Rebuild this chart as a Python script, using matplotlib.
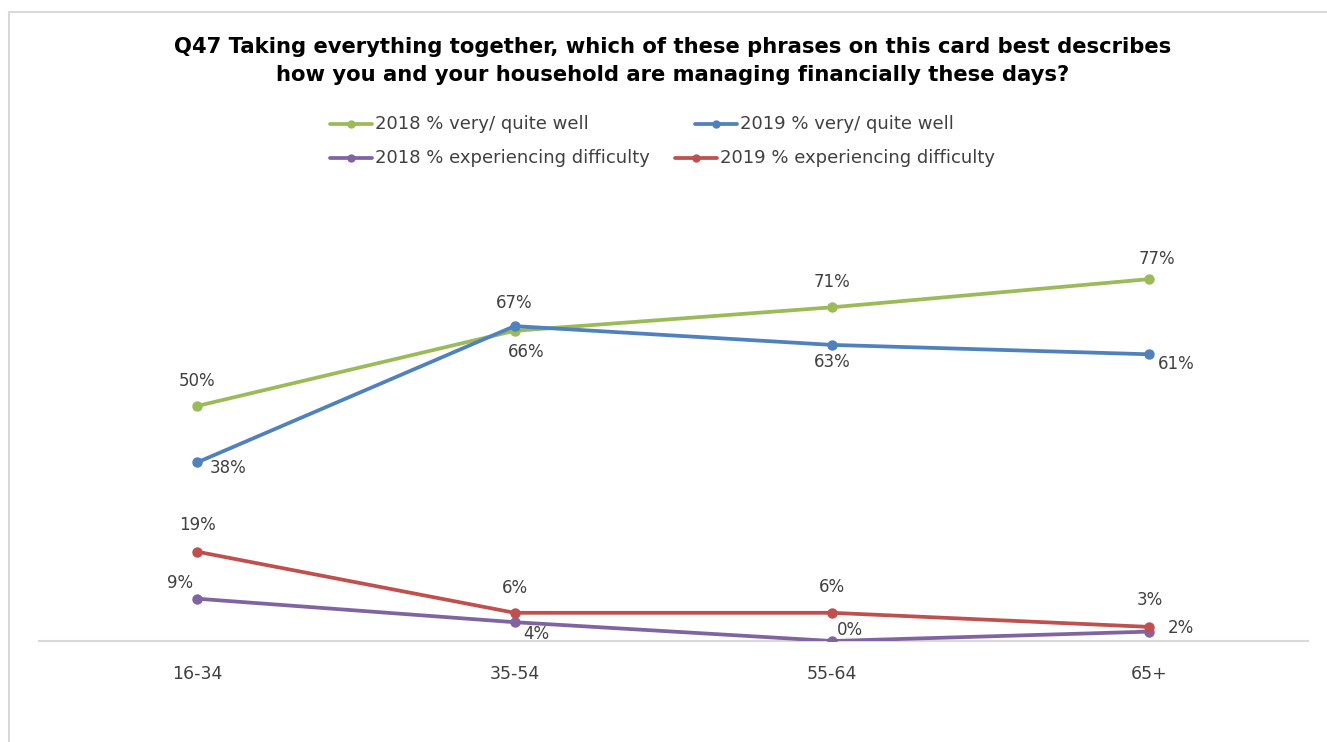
import numpy as np
import matplotlib
matplotlib.use("Agg")
from matplotlib import pyplot as plt
from matplotlib.lines import Line2D
from matplotlib.patches import Rectangle

plt.rcParams['font.family'] = ['DejaVu Sans']

age_groups = ['16-34', '35-54', '55-64', '65+']
well_2018 = [50, 66, 71, 77]
well_2019 = [38, 67, 63, 61]
diff_2018 = [9, 4, 0, 2]
diff_2019 = [19, 6, 6, 3]

title = ('Q47 Taking everything together, which of these phrases on this card best describes\n'
         'how you and your household are managing financially these days?')

# series: values, name, colour, label offsets (pixels) per point
series = [
  (well_2018, '2018 % very/ quite well', '#9BBB59', [(0, 25), (12, -21), (0, 25), (8, 20)]),
  (well_2019, '2019 % very/ quite well', '#4F81BD', [(31, -6), (0, 23), (0, -17), (27, -10)]),
  (diff_2018, '2018 % experiencing difficulty', '#8064A2', [(-17, 16), (22, -12), (18, 11), (32, 4)]),
  (diff_2019, '2019 % experiencing difficulty', '#C0504D', [(0, 27), (0, 25), (0, 26), (0, 27)]),
]

W, H = 1327, 742
fig = plt.figure(figsize=(W / 100, H / 100), dpi=100)
fig.patch.set_facecolor('white')

# outer frame (clipped on right and bottom like the screenshot)
fig.add_artist(Rectangle((8.5 / W, -0.1), 1.2, 1.1 - 11.5 / H, transform=fig.transFigure,
                         fill=False, edgecolor='#D9D9D9', lw=1.5))

x = np.arange(len(age_groups))
y0, y_px_per = 641, 4.70
ymax = 90
ax_top = y0 - ymax * y_px_per
ax = fig.add_axes([38.5 / W, 1 - y0 / H, (1308 - 38.5) / W, (y0 - ax_top) / H])
ax.set_xlim(-0.5, 3.5)
ax.set_ylim(0, ymax)

text_col = '#404040'
for vals, name, col, offs in series:
  ax.plot(x, vals, color=col, lw=2.7, marker='o', ms=6.5, solid_capstyle='round', zorder=3)
  for xi, v, (dx, dy) in zip(x, vals, offs):
    ax.annotate('%d%%' % v, (xi, v), xytext=(dx, dy), textcoords='offset pixels',
                ha='center', va='center', fontsize=12, color=text_col)

for s in ['top', 'right', 'left']:
  ax.spines[s].set_visible(False)
ax.spines['bottom'].set_color('#D9D9D9')
ax.spines['bottom'].set_linewidth(1.5)
ax.set_yticks([])
ax.set_xticks(x)
ax.set_xticklabels(age_groups, fontsize=12.5, color=text_col)
ax.tick_params(axis='x', length=0, pad=17)
ax.set_facecolor('none')

fig.text(673 / W, 1 - 61 / H, title, ha='center', va='center', fontsize=15.2,
         fontweight='bold', color='black', linespacing=1.55)

# legend, laid out like the original
leg_pos = [(330, 124), (695, 124), (330, 158), (675, 158)]
for (vals, name, col, offs), (lx, ly) in zip(series, leg_pos):
  fy = 1 - ly / H
  fig.add_artist(Line2D([lx / W, (lx + 42) / W], [fy, fy], transform=fig.transFigure,
                        color=col, lw=2.7, solid_capstyle='round'))
  fig.add_artist(Line2D([(lx + 21) / W], [fy], transform=fig.transFigure,
                        color=col, marker='o', ms=5))
  fig.text((lx + 45) / W, fy, name, ha='left', va='center', fontsize=13, color=text_col)

fig.savefig('out.png', dpi=100)
